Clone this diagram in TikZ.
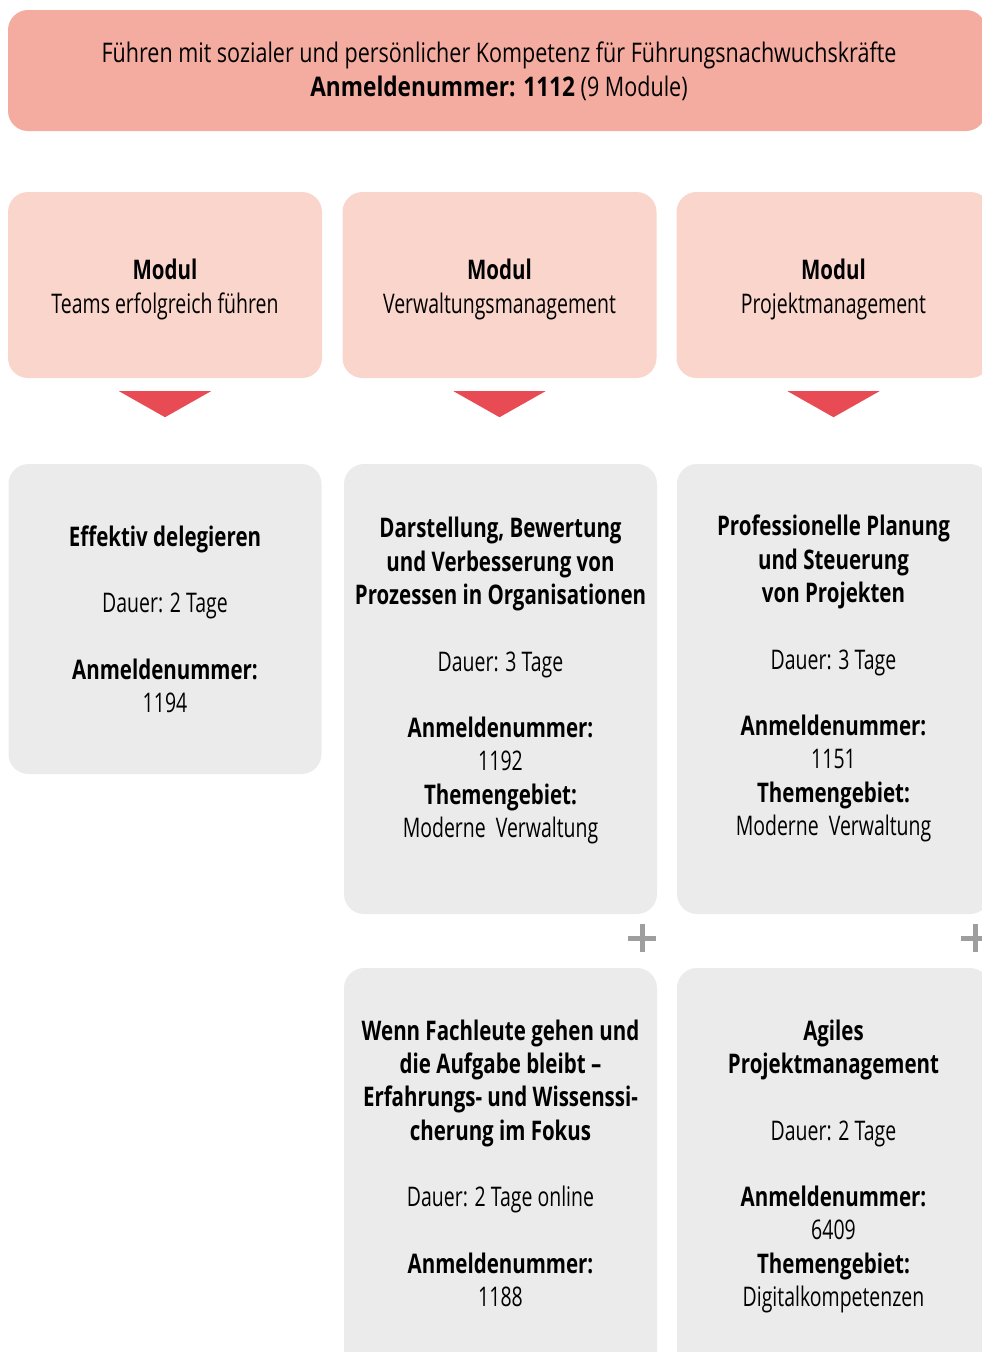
\documentclass[tikz,border=0pt]{standalone}
\usepackage{fontspec}
\setmainfont{Open Sans}[UprightFeatures = {FakeStretch = 0.721}, BoldFeatures = {FakeStretch = 0.759}]
\newfontfamily\kopfschrift{Open Sans}[UprightFeatures = {FakeStretch = 0.797}, BoldFeatures = {FakeStretch = 0.839}]
\usetikzlibrary{positioning, calc}

\definecolor{kopf}{HTML}{F5ACA0}
\definecolor{modul}{HTML}{FAD5CC}
\definecolor{kurs}{HTML}{EBEBEB}
\definecolor{pfeil}{HTML}{E94B55}
\definecolor{plus}{HTML}{9E9E9E}

\tikzset{
	kasten/.style = {rounded corners = 20pt, inner sep = 0pt},
	kopfbox/.style = {kasten, fill = kopf, minimum width = 978pt, minimum height = 121pt},
	modulbox/.style = {kasten, fill = modul, minimum width = 314pt, minimum height = 186pt},
	kursbox/.style = {kasten, fill = kurs, minimum width = 313pt},
	schrift/.style = {align = center, font = \fontsize{27}{33.3}\selectfont, inner sep = 0pt, anchor = base},
	spitze/.style = {fill = pfeil},
	plusbalken/.style = {draw = plus, line width = 5pt}
}

\begin{document}
\begin{tikzpicture}[x = 1pt, y = -1pt]

	\useasboundingbox (0, 0) rectangle (982, 1352);
	\clip (0, 0) rectangle (982, 1352);

	% Kopf

	\node [kopfbox] (kopf) at (497, 70.5) {};
	\node [schrift, font = \fontsize{27}{33.3}\kopfschrift] (titel) at (499, 96) {F\"uhren mit sozialer und pers\"onlicher Kompetenz f\"ur F\"uhrungsnachwuchskr\"afte\\ \textbf{Anmeldenummer: 1112} (9 Module)};

	% Module

	\node [modulbox] (m1) at (165, 285) {};
	\node [modulbox] (m2) at (499.5, 285) {};
	\node [modulbox] (m3) at (833.5, 285) {};

	\node [schrift] (t1) at (165, 313) {\textbf{Modul}\\ Teams erfolgreich f\"uhren};
	\node [schrift] (t2) at (499.5, 313) {\textbf{Modul}\\ Verwaltungsmanagement};
	\node [schrift] (t3) at (833.5, 313) {\textbf{Modul}\\ Projektmanagement};

	% Pfeile

	\foreach \m in {m1, m2, m3}
		\fill [spitze] ($(\m.south) + (-46, 13)$) -- ++(92, 0) -- ++(-46, 26) -- cycle;

	% Kurse

	\node [kursbox, minimum height = 310pt] (k1) at (165, 619) {};
	\node [kursbox, minimum height = 450pt] (k2) at (500.5, 689) {};
	\node [kursbox, minimum height = 450pt] (k3) at (833.5, 689) {};
	\node [kursbox, minimum height = 440pt] (k4) at (500.5, 1188) {};
	\node [kursbox, minimum height = 440pt] (k5) at (833.5, 1188) {};

	\node [schrift] (kt1) at (165, 712.5) {\textbf{Effektiv delegieren}\\[33.3pt]
		Dauer: 2 Tage\\[33.3pt]
		\textbf{Anmeldenummer:}\\ 1194};
	\node [schrift] (kt2) at (500.5, 837.5) {\textbf{Darstellung, Bewertung}\\ \textbf{und Verbesserung von}\\ \textbf{Prozessen in Organisationen}\\[33.3pt]
		Dauer: 3 Tage\\[33.3pt]
		\textbf{Anmeldenummer:}\\ 1192\\ \textbf{Themengebiet:}\\ Moderne~ Verwaltung};
	\node [schrift] (kt3) at (833.5, 835.5) {\textbf{Professionelle Planung}\\ \textbf{und Steuerung}\\ \textbf{von Projekten}\\[33.3pt]
		Dauer: 3 Tage\\[33.3pt]
		\textbf{Anmeldenummer:}\\ 1151\\ \textbf{Themengebiet:}\\ Moderne~ Verwaltung};
	\node [schrift] (kt4) at (500.5, 1306.5) {\textbf{Wenn Fachleute gehen und}\\ \textbf{die Aufgabe bleibt --}\\ \textbf{Erfahrungs- und Wissenssi-}\\ \textbf{cherung im Fokus}\\[33.3pt]
		Dauer: 2 Tage online\\[33.3pt]
		\textbf{Anmeldenummer:}\\ 1188};
	\node [schrift] (kt5) at (833.5, 1306.5) {\textbf{Agiles}\\ \textbf{Projektmanagement}\\[33.3pt]
		Dauer: 2 Tage\\[33.3pt]
		\textbf{Anmeldenummer:}\\ 6409\\ \textbf{Themengebiet:}\\ Digitalkompetenzen};

	% Plus

	\foreach \k in {k2, k3} {
		\draw [plusbalken] ($(\k.south east) + (-29, 24)$) -- ++(28, 0);
		\draw [plusbalken] ($(\k.south east) + (-15, 10)$) -- ++(0, 28);
	}

\end{tikzpicture}
\end{document}
